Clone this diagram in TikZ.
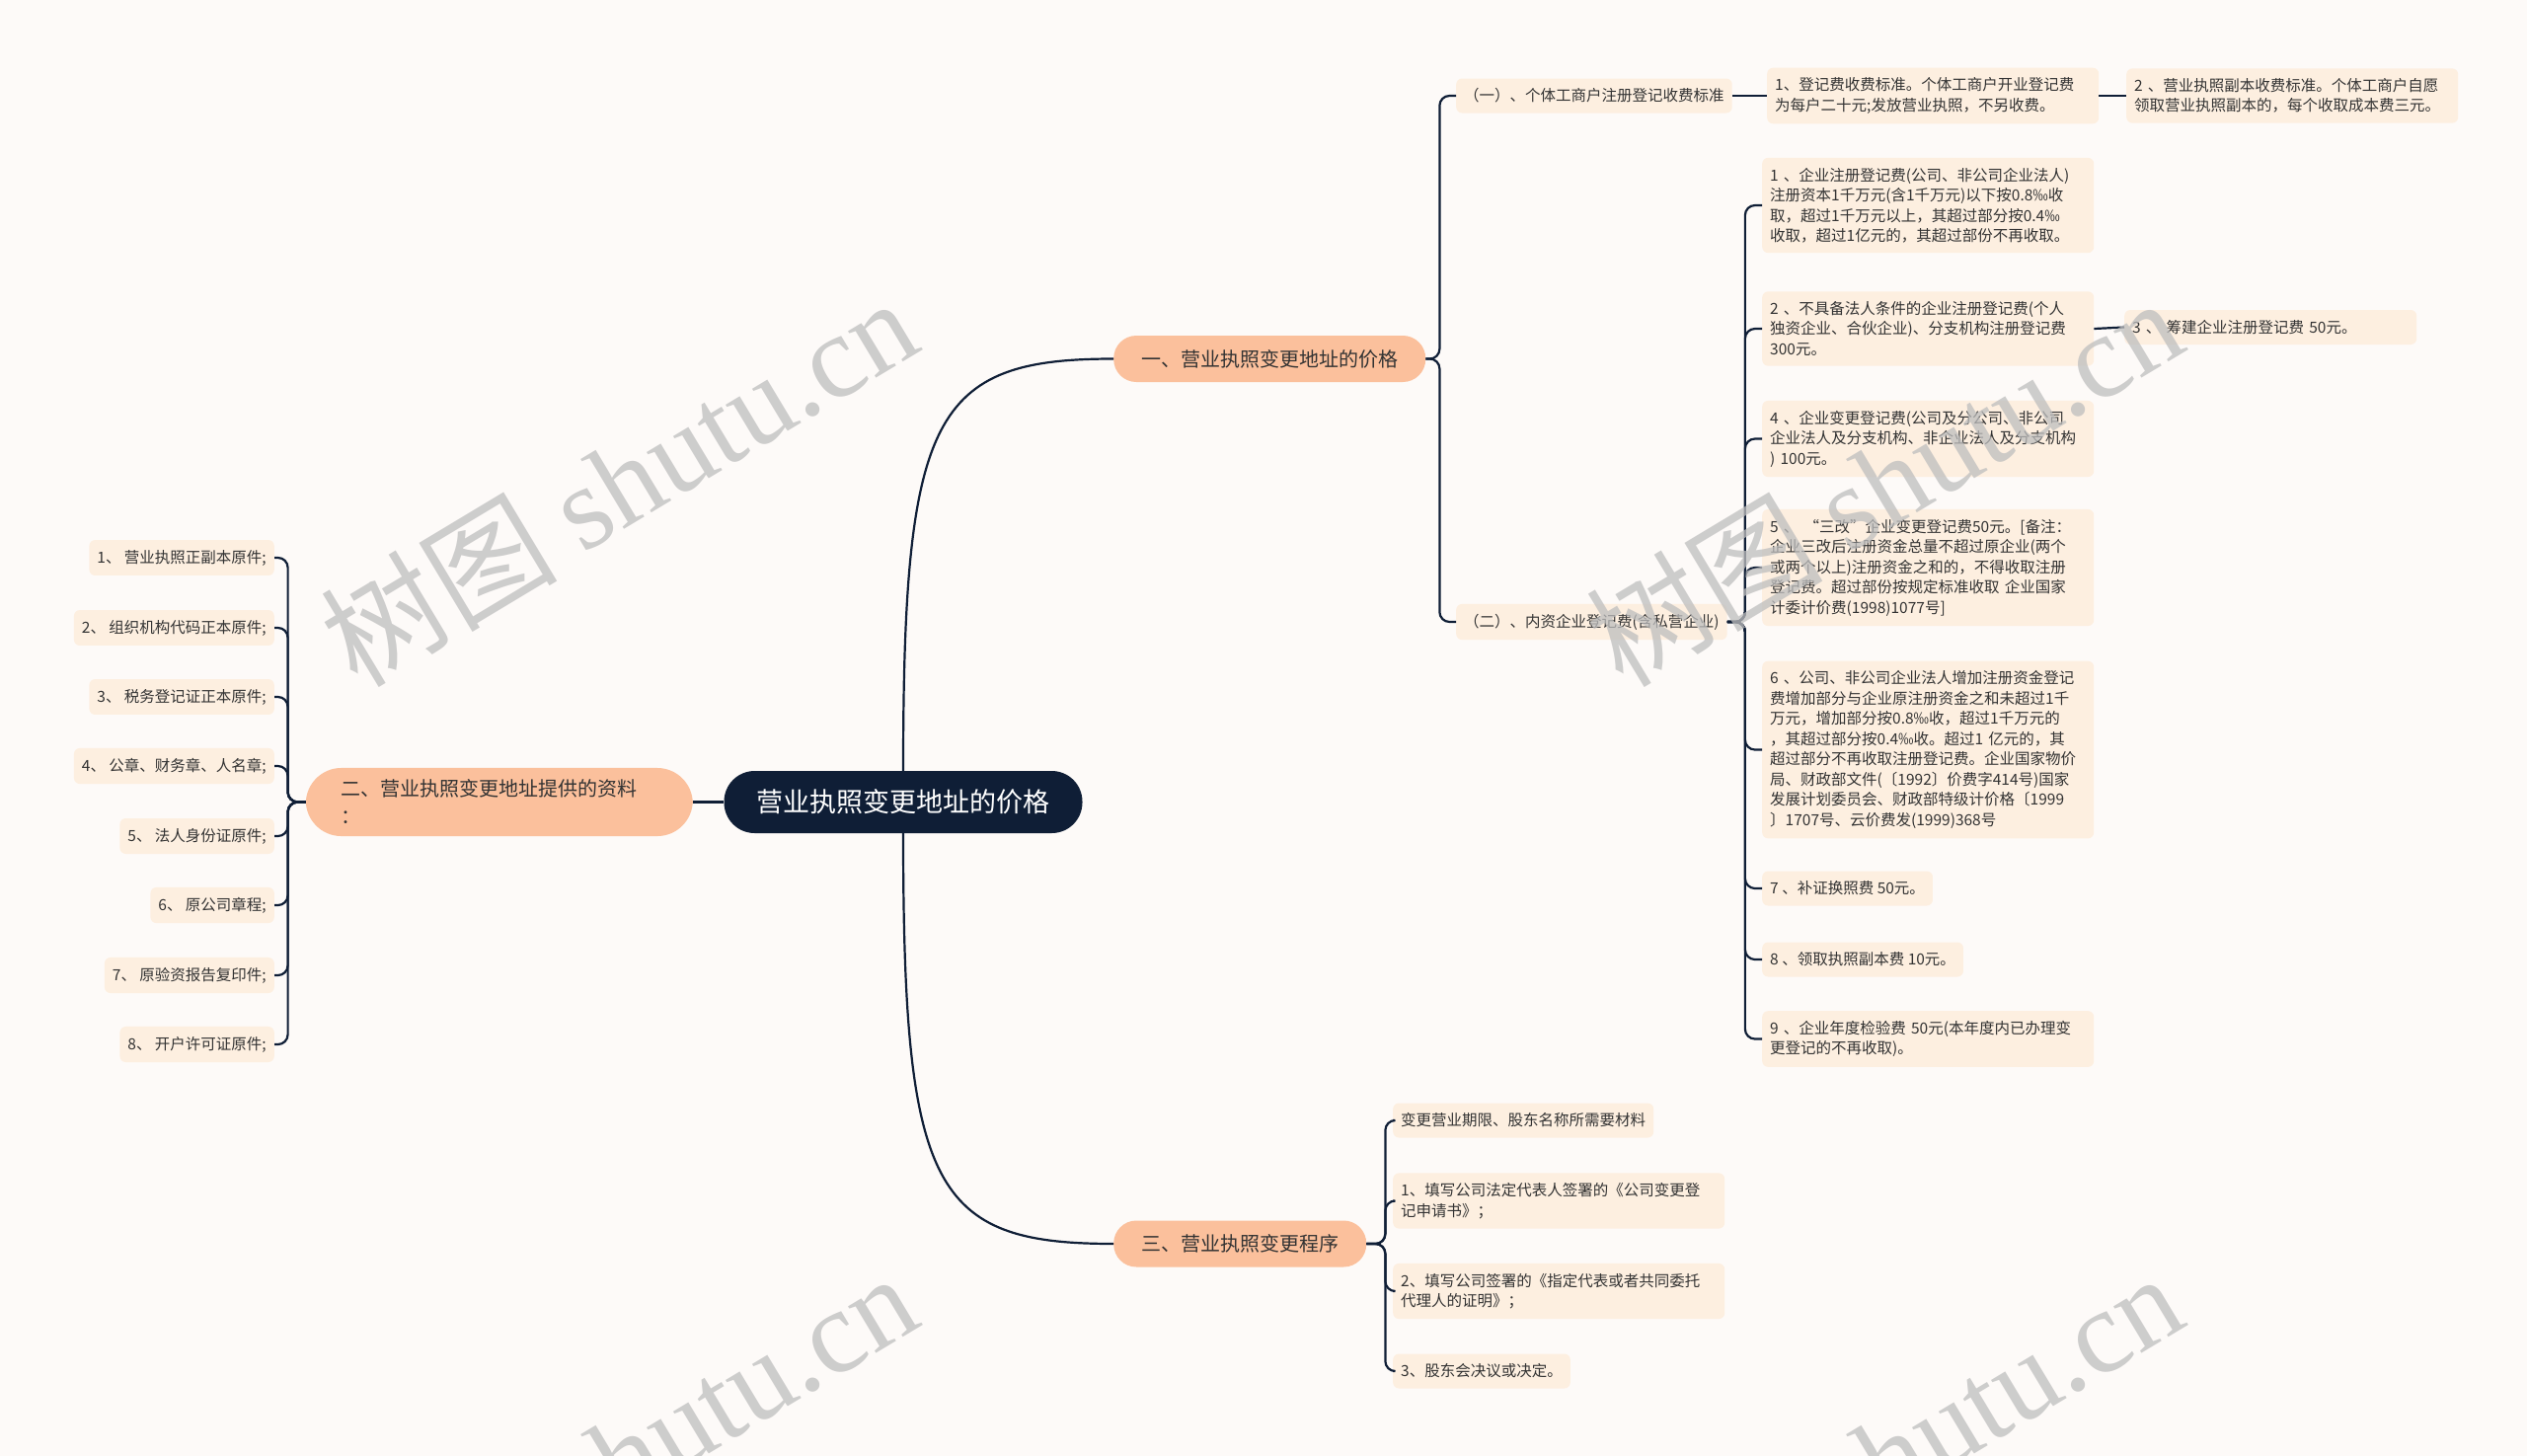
\documentclass[tikz,border=0pt]{standalone}
\usepackage{fontspec}
\usepackage{tikz}
\setmainfont{Noto Sans CJK SC}
\newfontfamily\wmlatin{Liberation Serif}
\definecolor{mapBg}{RGB}{253,250,248}
\definecolor{mapNavy}{RGB}{15,30,54}
\definecolor{mapSalmon}{RGB}{251,192,156}
\definecolor{mapCream}{RGB}{253,239,224}
\definecolor{mapText}{RGB}{51,51,51}
\definecolor{mapMark}{RGB}{190,190,190}

\begin{document}
\begin{tikzpicture}[x=1pt,y=-1pt,
    link/.style={draw=mapNavy, line width=2.2pt, rounded corners=10pt},
    rootbox/.style={fill=mapNavy, text=white, font=\fontsize{27}{32}\selectfont, inner xsep=33pt, minimum height=63pt, rounded corners=31pt},
    pill/.style={fill=mapSalmon, text=mapText, font=\fontsize{20}{28}\selectfont, inner xsep=28pt, minimum height=47pt, rounded corners=23pt},
    leaf/.style={fill=mapCream, text=mapText, font=\fontsize{15.5}{20.5}\selectfont, inner xsep=8pt, inner ysep=10pt, minimum height=35pt, rounded corners=6pt, align=left},
    wideleaf/.style={leaf, text width=320pt},
    wmtext/.style={text=mapMark, opacity=0.75, font=\fontsize{120}{120}\selectfont, rotate=31, anchor=base west, inner sep=0pt}]
    \useasboundingbox (0,0) rectangle (2560,1475);
    \fill[mapBg] (0,0) rectangle (2560,1475);

    \node[rootbox] (root) at (915,812.5) {营业执照变更地址的价格};
    \node[pill, anchor=west] (one) at (1128,363.5) {一、营业执照变更地址的价格};
    \node[pill, anchor=west] (three) at (1128,1260) {三、营业执照变更程序};
    \node[pill, anchor=east, text width=320pt, align=left, inner xsep=36pt, inner ysep=12pt, rounded corners=36pt] (two) at (702,812.5) {二、营业执照变更地址提供的资料\\：};

    \node[leaf, anchor=west] (g1) at (1475,97) {（一）、个体工商户注册登记收费标准};
    \node[wideleaf, anchor=west] (g1a) at (1790,97) {1、登记费收费标准。个体工商户开业登记费\\为每户二十元;发放营业执照，不另收费。};
    \node[wideleaf, anchor=west] (g1b) at (2154,97) {2 、营业执照副本收费标准。个体工商户自愿\\领取营业执照副本的，每个收取成本费三元。};
    \node[leaf, anchor=west] (g2) at (1475,630) {（二）、内资企业登记费(含私营企业)};

    \node[wideleaf, anchor=west] (q1) at (1785,208) {1 、企业注册登记费(公司、非公司企业法人)\\注册资本1千万元(含1千万元)以下按0.8‰收\\取，超过1千万元以上，其超过部分按0.4‰\\收取，超过1亿元的，其超过部份不再收取。};
    \node[wideleaf, anchor=west] (q2) at (1785,333) {2 、不具备法人条件的企业注册登记费(个人\\独资企业、合伙企业)、分支机构注册登记费\\300元。};
    \node[leaf, anchor=west, text width=280pt] (q3) at (2152,331.5) {3 、 筹建企业注册登记费 50元。};
    \node[wideleaf, anchor=west] (q4) at (1785,444.5) {4 、企业变更登记费(公司及分公司、非公司\\企业法人及分支机构、非企业法人及分支机构\\) 100元。};
    \node[wideleaf, anchor=west] (q5) at (1785,575) {5 、 “三改”企业变更登记费50元。[备注：\\企业三改后注册资金总量不超过原企业(两个\\或两个以上)注册资金之和的，不得收取注册\\登记费。超过部份按规定标准收取 企业国家\\计委计价费(1998)1077号]};
    \node[wideleaf, anchor=west] (q6) at (1785,759.5) {6 、公司、非公司企业法人增加注册资金登记\\费增加部分与企业原注册资金之和未超过1千\\万元，增加部分按0.8‰收，超过1千万元的\\，其超过部分按0.4‰收。超过1 亿元的，其\\超过部分不再收取注册登记费。企业国家物价\\局、财政部文件(〔1992〕价费字414号)国家\\发展计划委员会、财政部特级计价格〔1999\\〕1707号、云价费发(1999)368号};
    \node[leaf, anchor=west] (q7) at (1785,900) {7 、补证换照费 50元。};
    \node[leaf, anchor=west] (q8) at (1785,972) {8 、领取执照副本费 10元。};
    \node[wideleaf, anchor=west] (q9) at (1785,1052.5) {9 、企业年度检验费 50元(本年度内已办理变\\更登记的不再收取)。};

    \node[leaf, anchor=west] (s1) at (1411,1135) {变更营业期限、股东名称所需要材料};
    \node[wideleaf, anchor=west] (s2) at (1411,1216.5) {1、填写公司法定代表人签署的《公司变更登\\记申请书》；};
    \node[wideleaf, anchor=west] (s3) at (1411,1308) {2、填写公司签署的《指定代表或者共同委托\\代理人的证明》；};
    \node[leaf, anchor=west] (s4) at (1411,1389) {3、股东会决议或决定。};

    \node[leaf, anchor=east] (m1) at (278,565) {1、 营业执照正副本原件;};
    \node[leaf, anchor=east] (m2) at (278,636) {2、 组织机构代码正本原件;};
    \node[leaf, anchor=east] (m3) at (278,706) {3、 税务登记证正本原件;};
    \node[leaf, anchor=east] (m4) at (278,776) {4、 公章、财务章、人名章;};
    \node[leaf, anchor=east] (m5) at (278,847) {5、 法人身份证原件;};
    \node[leaf, anchor=east] (m6) at (278,917) {6、 原公司章程;};
    \node[leaf, anchor=east] (m7) at (278,988) {7、 原验资报告复印件;};
    \node[leaf, anchor=east] (m8) at (278,1058) {8、 开户许可证原件;};

    \draw[link] (root.north) .. controls (915,420) and (945,363.5) .. (one.west);
    \draw[link] (root.south) .. controls (915,1205) and (945,1260) .. (three.west);
    \draw[link] (root.west) -- (two.east);

    \draw[link] (one.east) -- ++(14,0) |- (g1.west);
    \draw[link] (one.east) -- ++(14,0) |- (g2.west);
    \draw[link] (g1.east) -- (g1a.west);
    \draw[link] (g1a.east) -- (g1b.west);

    \draw[link] (g2.east) -- ++(18,0) |- (q1.west);
    \draw[link] (g2.east) -- ++(18,0) |- (q2.west);
    \draw[link] (g2.east) -- ++(18,0) |- (q4.west);
    \draw[link] (g2.east) -- ++(18,0) |- (q5.west);
    \draw[link] (g2.east) -- ++(18,0) |- (q6.west);
    \draw[link] (g2.east) -- ++(18,0) |- (q7.west);
    \draw[link] (g2.east) -- ++(18,0) |- (q8.west);
    \draw[link] (g2.east) -- ++(18,0) |- (q9.west);
    \draw[link] (q2.east) -- (q3.west);

    \draw[link] (three.east) -- ++(19,0) |- (s1.west);
    \draw[link] (three.east) -- ++(19,0) |- (s2.west);
    \draw[link] (three.east) -- ++(19,0) |- (s3.west);
    \draw[link] (three.east) -- ++(19,0) |- (s4.west);

    \draw[link] (two.west) -- ++(-18,0) |- (m1.east);
    \draw[link] (two.west) -- ++(-18,0) |- (m2.east);
    \draw[link] (two.west) -- ++(-18,0) |- (m3.east);
    \draw[link] (two.west) -- ++(-18,0) |- (m4.east);
    \draw[link] (two.west) -- ++(-18,0) |- (m5.east);
    \draw[link] (two.west) -- ++(-18,0) |- (m6.east);
    \draw[link] (two.west) -- ++(-18,0) |- (m7.east);
    \draw[link] (two.west) -- ++(-18,0) |- (m8.east);

    \begin{scope}
        \clip (0,0) rectangle (2560,1475);
        \node[wmtext] (wm1) at (362,699) {树图 {\wmlatin shutu.cn}};
        \node[wmtext] (wm2) at (1644,699) {树图 {\wmlatin shutu.cn}};
        \node[wmtext] (wm3) at (362,1687) {树图 {\wmlatin shutu.cn}};
        \node[wmtext] (wm4) at (1644,1687) {树图 {\wmlatin shutu.cn}};
    \end{scope}
\end{tikzpicture}
\end{document}
